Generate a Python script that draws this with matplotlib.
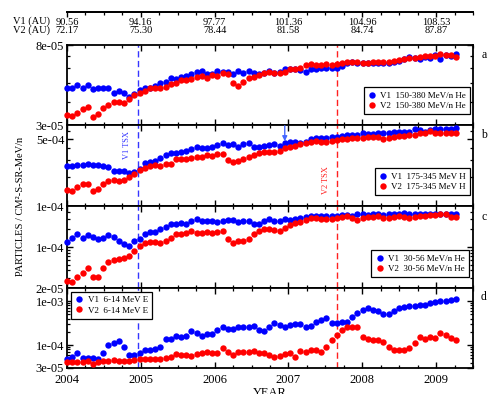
import numpy as np
import matplotlib
matplotlib.use('Agg')
import matplotlib.pyplot as plt
from matplotlib.ticker import MultipleLocator
from matplotlib.lines import Line2D

plt.rcParams['font.family'] = ['Liberation Serif', 'DejaVu Serif']

# top axis: heliocentric distance at each year tick
years = [2004, 2005, 2006, 2007, 2008, 2009]
v1_au = ['90.56', '94.16', '97.77', '101.36', '104.96', '108.53']
v2_au = ['72.17', '75.30', '78.44', '81.58', '84.74', '87.87']
v1_tsx = 2004.96
v2_tsx = 2007.66
arrow_year = 2006.95

# panel a: 150-380 MeV/n He  (x 1e-5)
a_v1 = [4.70, 4.75, 4.90, 4.70, 4.90, 4.67, 4.75, 4.75, 4.70, 4.46,
        4.55, 4.42, 4.25, 4.37, 4.60, 4.75, 4.75, 4.86, 5.04, 5.10,
        5.32, 5.25, 5.38, 5.47, 5.58, 5.77, 5.84, 5.58, 5.60, 5.82,
        5.77, 5.77, 5.58, 5.82, 5.65, 5.82, 5.65, 5.58, 5.70, 5.84,
        5.70, 5.72, 5.94, 5.96, 5.94, 5.89, 5.72, 5.96, 5.96, 6.00,
        6.05, 6.00, 6.07, 6.20, 6.39, 6.52, 6.44, 6.39, 6.44, 6.39,
        6.44, 6.44, 6.44, 6.49, 6.58, 6.72, 6.88, 6.80, 6.72, 6.88,
        6.80, 7.08, 6.72, 7.08, 7.02, 7.14]
a_v2 = [3.39, 3.35, 3.49, 3.65, 3.73, 3.29, 3.43, 3.68, 3.83, 3.96,
        3.96, 3.91, 4.13, 4.34, 4.46, 4.57, 4.75, 4.70, 4.70, 4.80,
        4.94, 5.04, 5.21, 5.21, 5.25, 5.43, 5.47, 5.32, 5.54, 5.47,
        5.65, 5.58, 5.04, 4.84, 5.10, 5.32, 5.43, 5.54, 5.70, 5.77,
        5.70, 5.70, 5.77, 5.94, 5.94, 6.05, 6.26, 6.31, 6.26, 6.26,
        6.31, 6.26, 6.31, 6.44, 6.52, 6.47, 6.47, 6.39, 6.44, 6.47,
        6.47, 6.47, 6.52, 6.60, 6.66, 6.74, 6.80, 6.80, 6.93, 7.02,
        7.00, 7.02, 7.14, 7.08, 7.08, 6.93]

# panel b: 175-345 MeV H  (x 1e-4)
b_v1 = [2.61, 2.61, 2.68, 2.68, 2.72, 2.68, 2.68, 2.61, 2.57, 2.33,
        2.32, 2.33, 2.23, 2.28, 2.43, 2.83, 2.86, 2.95, 3.19, 3.41,
        3.54, 3.54, 3.63, 3.74, 3.90, 4.09, 4.06, 4.06, 4.16, 4.33,
        4.50, 4.33, 4.40, 4.16, 4.43, 4.50, 4.09, 4.09, 4.22, 4.33,
        4.40, 4.22, 4.57, 4.68, 4.68, 4.50, 4.68, 4.96, 5.08, 5.08,
        5.16, 5.29, 5.29, 5.38, 5.50, 5.50, 5.50, 5.73, 5.59, 5.64,
        5.73, 5.73, 5.73, 5.97, 5.97, 5.97, 5.97, 6.30, 6.21, 5.97,
        6.21, 6.30, 6.30, 6.35, 6.35, 6.46]
b_v2 = [1.47, 1.44, 1.59, 1.68, 1.69, 1.44, 1.49, 1.68, 1.82, 1.87,
        1.84, 1.87, 2.02, 2.14, 2.37, 2.51, 2.63, 2.68, 2.63, 2.72,
        2.74, 3.06, 3.06, 3.09, 3.19, 3.27, 3.27, 3.41, 3.35, 3.47,
        3.50, 3.02, 2.86, 2.95, 3.09, 3.27, 3.41, 3.54, 3.63, 3.63,
        3.70, 3.74, 4.03, 4.16, 4.26, 4.40, 4.50, 4.61, 4.75, 4.68,
        4.68, 4.75, 4.88, 4.96, 5.00, 5.08, 5.08, 5.16, 5.20, 5.20,
        5.29, 5.00, 5.16, 5.29, 5.38, 5.42, 5.50, 5.50, 5.73, 5.73,
        6.06, 5.83, 5.83, 5.83, 5.83, 5.83]

# panel c: 30-56 MeV/n He  (x 1e-5)
c_v1 = [12.0, 14.1, 16.5, 14.1, 16.0, 15.0, 13.7, 14.1, 16.0, 14.6,
        12.8, 11.1, 10.4, 12.8, 13.5, 16.5, 17.8, 17.8, 20.0, 22.2,
        24.4, 24.4, 25.4, 24.7, 28.1, 29.7, 28.1, 28.1, 28.1, 27.0,
        28.1, 28.8, 28.8, 27.0, 27.7, 27.7, 24.7, 24.7, 27.7, 29.7,
        28.1, 27.7, 29.7, 28.8, 30.0, 31.6, 32.9, 33.8, 34.2, 34.2,
        33.8, 34.2, 34.2, 35.2, 35.2, 34.2, 36.6, 36.1, 35.2, 36.1,
        36.1, 35.2, 36.1, 36.1, 36.6, 37.6, 36.6, 36.6, 36.1, 36.1,
        36.6, 36.1, 36.1, 36.6, 36.6, 36.6]
c_v2 = [2.63, 2.56, 3.12, 3.56, 4.33, 3.04, 3.04, 4.44, 5.48, 6.00,
        6.17, 6.57, 7.11, 8.65, 10.5, 11.6, 12.3, 12.3, 11.6, 12.8,
        14.4, 16.5, 16.5, 17.1, 18.7, 17.5, 17.5, 17.8, 17.5, 17.8,
        18.7, 13.5, 11.6, 12.8, 12.7, 13.7, 16.5, 19.0, 20.0, 20.0,
        19.5, 19.0, 21.3, 23.7, 25.4, 27.0, 28.8, 30.8, 31.6, 30.0,
        30.0, 30.0, 30.8, 32.9, 34.2, 31.6, 28.8, 30.8, 32.1, 32.9,
        33.8, 30.8, 30.8, 32.1, 33.8, 32.9, 30.8, 32.1, 33.8, 34.2,
        35.2, 35.2, 36.6, 36.1, 32.9, 32.9]

# panel d: 6-14 MeV E  (x 1e-5)
d_v1 = [4.81, 5.43, 6.49, 5.15, 5.15, 5.15, 4.81, 6.49, 10.0, 11.0,
        12.4, 8.90, 5.93, 5.93, 6.70, 7.72, 7.72, 8.14, 9.18, 13.7,
        13.7, 16.3, 15.5, 16.3, 20.9, 18.5, 16.3, 17.9, 17.9, 22.1,
        26.2, 22.9, 22.9, 26.2, 25.8, 26.2, 27.6, 22.1, 20.9, 25.4,
        32.4, 28.7, 25.4, 28.7, 30.2, 30.2, 26.2, 27.2, 34.1, 37.3,
        40.8, 31.4, 31.4, 34.1, 34.1, 44.3, 53.0, 63.0, 68.9, 63.0,
        59.8, 51.1, 51.1, 59.8, 68.9, 75.0, 77.7, 77.7, 81.9, 81.9,
        89.6, 97.5, 101, 103, 106, 112]
d_v2 = [4.18, 4.05, 4.18, 4.18, 4.40, 3.64, 4.18, 4.40, 4.40, 4.57,
        4.40, 4.33, 4.40, 4.57, 4.81, 4.73, 4.73, 4.73, 4.81, 4.99,
        5.26, 6.26, 5.93, 5.93, 5.63, 6.26, 6.49, 6.84, 6.49, 6.70,
        8.71, 6.84, 5.93, 7.06, 6.84, 7.06, 7.32, 6.70, 6.70, 5.93,
        5.43, 5.63, 6.16, 6.49, 5.43, 7.32, 7.06, 7.72, 7.72, 7.06,
        9.00, 13.0, 17.0, 22.1, 25.4, 25.4, 26.2, 15.0, 13.5, 13.1,
        13.1, 11.6, 8.90, 7.72, 7.72, 7.72, 8.43, 11.0, 15.0, 13.7,
        15.5, 14.3, 18.5, 16.9, 14.3, 12.8]

t = np.linspace(2004.0, 2009.27, len(a_v1))

panels = [
    dict(v1=np.array(a_v1) * 1e-5, v2=np.array(a_v2) * 1e-5, lab='150-380 MeV/n He',
         ylim=(3e-5, 8e-5), major=[3e-5, 8e-5], labels=['3e-05', '8e-05'],
         minor=[4e-5, 5e-5, 6e-5, 7e-5], letter='a', leg=('lower right', (0.993, 0.137))),
    dict(v1=np.array(b_v1) * 1e-4, v2=np.array(b_v2) * 1e-4, lab='175-345 MeV H',
         ylim=(1e-4, 7e-4), major=[1e-4, 5e-4], labels=['1e-04', '5e-04'],
         minor=[2e-4, 3e-4, 4e-4, 6e-4], letter='b', leg=('lower right', (0.993, 0.136))),
    dict(v1=np.array(c_v1) * 1e-5, v2=np.array(c_v2) * 1e-5, lab='30-56 MeV/n He',
         ylim=(2e-5, 5e-4), major=[2e-5, 1e-4], labels=['2e-05', '1e-04'],
         minor=[3e-5, 4e-5, 5e-5, 6e-5, 7e-5, 8e-5, 9e-5, 2e-4, 3e-4, 4e-4],
         letter='c', leg=('lower right', (0.99, 0.134))),
    dict(v1=np.array(d_v1) * 1e-5, v2=np.array(d_v2) * 1e-5, lab='6-14 MeV E',
         ylim=(3e-5, 2e-3), major=[3e-5, 1e-4, 1e-3], labels=['3e-05', '1e-04', '1e-03'],
         minor=[4e-5, 5e-5, 6e-5, 7e-5, 8e-5, 9e-5, 2e-4, 3e-4, 4e-4, 5e-4,
                6e-4, 7e-4, 8e-4, 9e-4],
         letter='d', leg=('upper left', (0.01, 0.95))),
]

W, H = 491, 394
fig = plt.figure(figsize=(W / 100, H / 100), dpi=100)
left, right = 67, 473
edges = [45, 125, 206, 288, 368]
blue = '#0000ff'
red = '#ff0000'

axes = []
for k, p in enumerate(panels):
    top, bot = edges[k], edges[k + 1]
    ax = fig.add_axes([left / W, 1 - bot / H, (right - left) / W, (bot - top) / H])
    axes.append(ax)
    ax.plot(t, p['v1'], 'o', color=blue, ms=4.6, mew=0, clip_on=False, zorder=3,
            label='V1  ' + p['lab'])
    ax.plot(t, p['v2'], 'o', color=red, ms=4.6, mew=0, clip_on=False, zorder=3,
            label='V2  ' + p['lab'])
    ax.axvline(v1_tsx, color='#3535ff', lw=1, ls=(0, (4.5, 2.5)), zorder=2)
    ax.axvline(v2_tsx, color='#ff2020', lw=1, ls=(0, (4.5, 2.5)), zorder=2)
    ax.set_yscale('log')
    ax.set_ylim(*p['ylim'])
    ax.set_xlim(2004, 2009.5)
    ax.set_yticks(p['major'])
    ax.set_yticklabels(p['labels'])
    ax.set_yticks(p['minor'], minor=True)
    ax.set_yticklabels([], minor=True)
    ax.set_xticks(years)
    ax.xaxis.set_minor_locator(MultipleLocator(0.25))
    ax.tick_params(which='both', direction='in', top=True, right=True, labelsize=9)
    ax.tick_params(which='major', length=4.2, width=1)
    ax.tick_params(which='minor', length=2.4, width=0.9)
    ax.tick_params(axis='y', pad=2)
    for s in ax.spines.values():
        s.set_linewidth(1.3)
    if k < 3:
        ax.set_xticklabels([])
    loc, anchor = p['leg']
    leg = ax.legend(loc=loc, bbox_to_anchor=anchor, borderaxespad=0, fontsize=6.5,
                    frameon=True, fancybox=False, framealpha=1, edgecolor='black',
                    handlelength=0.9, handletextpad=0.5, labelspacing=0.2,
                    borderpad=0.45, markerscale=1.0)
    leg.get_frame().set_linewidth(0.9)
    ax.text(1.027, {'a': 0.875, 'b': 0.877, 'c': 0.866, 'd': 0.887}[p['letter']],
            p['letter'], transform=ax.transAxes, fontsize=8.5, va='center', ha='center')

axd = axes[3]
axd.set_xticklabels([str(y) for y in years])
axd.tick_params(axis='x', pad=4)
axd.set_xlabel('YEAR', fontsize=9, labelpad=1)

axb = axes[1]
axb.text(2004.81, 0.75, 'V1 TSX', color='#3535ff', rotation=90, fontsize=6,
         ha='center', va='center', transform=axb.get_xaxis_transform())
axb.text(2007.51, 0.32, 'V2 TSX', color='#ff2020', rotation=90, fontsize=6,
         ha='center', va='center', transform=axb.get_xaxis_transform())
axb.annotate('', xy=(arrow_year, 0.80), xytext=(arrow_year, 0.99),
             xycoords=axb.get_xaxis_transform(), textcoords=axb.get_xaxis_transform(),
             arrowprops=dict(arrowstyle='-|>', color='#4466ff', lw=1,
                             mutation_scale=7, shrinkA=0, shrinkB=0))

fig.text(21 / W, 1 - 206 / H, 'PARTICLES / CM²-S-SR-MeV/n', rotation=90,
         fontsize=7.5, ha='center', va='center')

# top distance axis: a bare line at y = 12 px with ticks hanging below it
ax_au = fig.add_axes([left / W, 1 - 12 / H, (right - left) / W, 8 / H])
ax_au.set_facecolor('none')
for s in ['top', 'left', 'right']:
    ax_au.spines[s].set_visible(False)
ax_au.spines['bottom'].set_linewidth(1.3)
ax_au.set_xlim(2004, 2009.5)
ax_au.set_ylim(0, 1)
ax_au.tick_params(axis='y', left=False, labelleft=False)
ax_au.set_xticks(years)
ax_au.set_xticklabels([a + '\n' + b for a, b in zip(v1_au, v2_au)],
                      fontsize=7.5, linespacing=0.95)
ax_au.xaxis.set_minor_locator(MultipleLocator(0.25))
ax_au.tick_params(axis='x', which='major', direction='out', length=3.6, width=1, pad=0.5)
ax_au.tick_params(axis='x', which='minor', direction='out', length=2.2, width=0.9)
fig.add_artist(Line2D([left / W, right / W], [1 - 12 / H, 1 - 12 / H],
                      color='black', lw=1.3, transform=fig.transFigure))
fig.text(13 / W, 1 - 21 / H, 'V1 (AU)', fontsize=7.5, ha='left', va='center')
fig.text(13 / W, 1 - 30 / H, 'V2 (AU)', fontsize=7.5, ha='left', va='center')

fig.savefig('out.png', dpi=100)
